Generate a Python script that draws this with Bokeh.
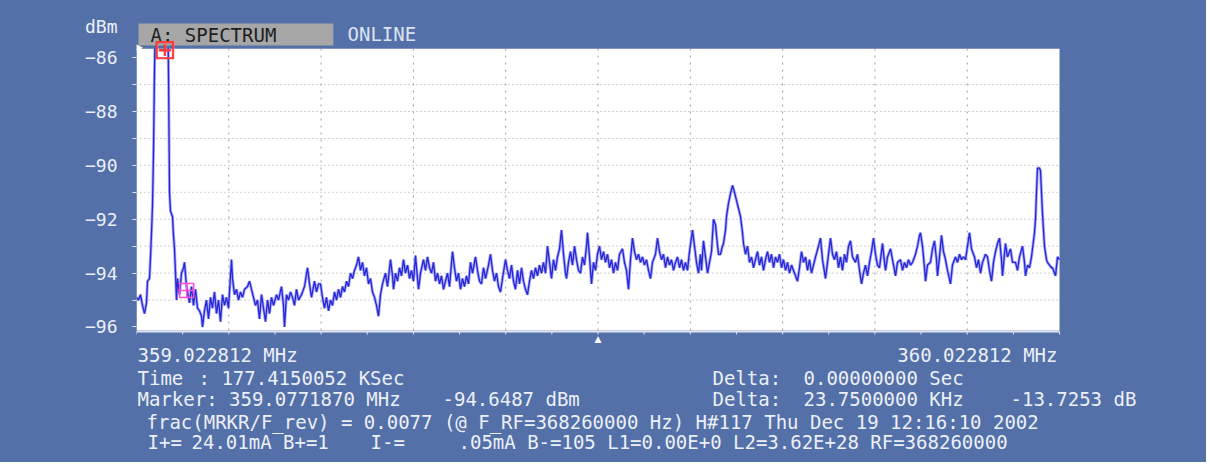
from bokeh.plotting import figure
from bokeh.models import Range1d, FixedTicker, Label, BoxAnnotation
from bokeh.embed import file_html
from bokeh.resources import INLINE

# ---------------- data ----------------
F_START_MHZ = 359.022812
F_STOP_MHZ = 360.022812
TRACE_BINS = 923            # display bins across the span
Y_BOTTOM_DBM = -96.13
Y_TOP_DBM = -85.66

y_tick_values = [-96, -94, -92, -90, -88, -86]
y_minor_values = [-96, -95, -94, -93, -92, -91, -90, -89, -88, -87, -86]
y_grid_values = [-95, -94, -93, -92, -91, -90, -89, -88, -87]
unit_label = "dBm"

trace_bin = [
    0, 2, 4, 6, 8, 10, 11, 13, 14, 15, 16, 17, 18, 19, 22, 25, 28, 30, 31, 32,
    33, 34, 36, 37, 38, 39, 40, 41, 43, 45, 47, 48, 50, 51, 53, 55, 57, 59, 61, 63,
    65, 66, 68, 70, 72, 74, 76, 78, 80, 82, 84, 86, 88, 90, 92, 95, 96, 98, 100, 102,
    104, 106, 108, 111, 113, 115, 117, 119, 121, 123, 125, 127, 129, 131, 133, 135, 137, 140, 142, 145,
    147, 148, 150, 152, 154, 156, 158, 160, 162, 165, 168, 171, 173, 175, 178, 180, 182, 184,
    186, 188, 190, 192, 194, 196, 198, 200, 202, 204, 206, 208, 210, 212, 214, 216, 218, 220,
    222, 224, 226, 228, 230, 232, 234, 236, 238, 240, 242, 244, 246, 249, 251, 254, 256, 257,
    259, 261, 263, 265, 267, 269, 271, 273, 275, 277, 279, 281, 282, 284, 287, 289, 291, 293,
    295, 297, 299, 301, 303, 305, 307, 309, 311, 313, 316, 318, 320, 322, 324, 326, 328, 330,
    332, 334, 336, 339, 341, 343, 345, 347, 349, 352, 354, 356, 358, 360, 362, 364, 366, 369,
    371, 373, 375, 377, 379, 381, 383, 385, 387, 389, 391, 393, 395, 397, 399, 401, 403, 405,
    407, 409, 411, 413, 415, 417, 419, 421, 423, 425, 427, 429, 430, 432, 434, 436, 438, 440,
    442, 444, 446, 448, 450, 451, 453, 455, 457, 459, 461, 463, 465, 467, 469, 471, 473, 475,
    477, 479, 481, 483, 486, 488, 490, 492, 494, 496, 498, 500, 502, 504, 506, 508, 510, 512,
    514, 516, 519, 521, 523, 525, 527, 529, 531, 533, 535, 537, 539, 541, 543, 545, 547, 549,
    551, 553, 556,
    558, 560, 562, 564, 565, 567, 569, 571, 573, 575, 577, 579, 580, 582, 584, 586, 587, 589,
    590, 592, 594, 596, 598, 600, 602, 604, 606, 607, 609, 611, 613, 615, 617, 619, 621, 623,
    625, 627, 629, 631, 633, 635, 637, 639, 641, 643, 645, 647, 649, 651, 653, 655, 657, 659,
    661, 663, 665, 667, 669, 671, 673, 675, 677, 679, 682, 684, 686, 689, 691, 693, 694, 696,
    698, 700, 702, 704, 706, 708, 710, 712, 714, 716, 719, 721, 723, 725, 727, 729, 731, 733,
    735, 737,
    739, 741, 743, 745, 746, 748, 749, 751, 754, 756, 758, 759, 761, 764, 766, 768, 770, 772,
    774, 776, 778, 779, 781, 783, 784, 786, 788, 789, 791, 794, 796, 798, 800, 801, 803, 805,
    807, 809, 811, 814, 816, 819, 821, 823, 825, 827, 829, 831, 833, 835, 838, 840, 842, 844,
    846, 849, 851, 853, 855, 857, 859, 861, 863, 865, 866, 868, 869, 871, 874, 876, 879, 881,
    883, 886, 888, 889, 891, 893, 895, 896, 898, 899, 900, 901, 903, 904, 905, 906, 908, 910,
    911, 913, 915, 916, 918, 919, 921, 923,
]

trace_dbm = [
    -94.9, -95.0, -94.8, -95.2, -95.5, -95.1, -94.3, -94.2, -93.4, -92.5, -91.5, -89.5, -86.5, -84.0, -82.5, -81.3, -80.9, -81.5, -83.5, -86.5,
    -91.0, -91.7, -91.9, -92.6, -93.1, -94.0, -95.0, -94.2, -94.8, -94.0, -93.8, -93.6, -94.5, -94.7, -95.1, -94.5, -95.2, -94.6, -95.3, -95.4,
    -95.6, -96.0, -95.4, -95.0, -95.7, -94.9, -95.3, -94.7, -95.5, -95.0, -95.8, -94.8, -95.2, -94.9, -95.3, -93.5, -94.2, -94.8, -94.6, -95.0,
    -94.7, -94.9, -94.6, -94.5, -94.3, -94.6, -94.9, -95.2, -95.0, -95.7, -94.8, -95.3, -95.8, -95.0, -95.5, -94.9, -95.2, -94.8, -95.0, -94.5,
    -95.2, -96.0, -94.8, -95.0, -94.7, -94.9, -95.2, -94.6, -95.0, -94.8, -94.5, -93.8, -94.4, -94.9, -94.3, -94.7, -94.4, -94.4,
    -94.9, -95.3, -94.9, -95.4, -95.0, -95.2, -94.7, -95.0, -94.6, -94.9, -94.5, -94.7, -94.3, -94.5, -94.0, -94.2, -93.9, -93.7,
    -93.4, -93.9, -93.6, -94.1, -93.8, -94.4, -94.2, -94.7, -94.9, -95.2, -95.6, -94.8, -94.4, -94.0, -94.5, -93.5, -94.1, -94.6,
    -94.0, -94.3, -93.8, -94.1, -93.5, -94.0, -93.7, -94.2, -93.9, -94.3, -93.35, -94.2, -94.6, -94.0, -93.5, -93.9, -93.4, -93.8,
    -94.0, -93.6, -94.3, -94.0, -94.4, -94.1, -94.6, -94.3, -94.0, -94.5, -93.2, -93.8, -94.3, -94.0, -94.6, -94.2, -94.5, -94.1,
    -94.4, -93.6, -94.0, -93.4, -93.9, -94.3, -94.4, -93.8, -94.2, -93.7, -93.3, -93.9, -94.3, -94.0, -94.5, -94.7, -94.2, -93.5,
    -93.9, -94.2, -93.7, -94.3, -94.6, -93.9, -94.4, -93.8, -94.3, -94.6, -94.8, -94.3, -93.9, -94.2, -93.8, -94.1, -93.7, -94.0,
    -93.6, -94.0, -93.0, -93.6, -94.2, -93.5, -93.9, -93.4, -93.1, -92.4, -93.3, -94.0, -94.2, -93.6, -93.2, -93.7, -93.0, -93.5,
    -93.9, -94.0, -93.4, -93.7, -93.0, -92.5, -93.4, -94.4, -93.6, -93.9, -93.3, -93.0, -93.5, -93.2, -93.6, -93.3, -93.8, -93.5,
    -94.0, -93.6, -93.9, -93.3, -93.1, -93.6, -93.9, -94.6, -93.5, -92.7, -93.2, -93.5, -93.3, -93.6, -93.4, -93.7, -93.5, -93.9,
    -94.2, -93.6, -93.3, -92.7, -93.2, -93.5, -93.3, -93.8, -93.4, -93.7, -93.5, -93.9, -93.6, -93.4, -93.8, -93.5, -93.9, -93.6,
    -93.9, -93.2, -92.4,
    -93.0, -93.6, -94.0, -93.3, -93.9, -92.8, -93.4, -94.0, -93.6, -93.2, -92.0, -92.2, -92.6, -93.3, -93.3, -93.0, -92.9, -92.4,
    -91.9, -91.4, -91.05, -90.74, -91.0, -91.3, -91.6, -91.9, -92.5, -92.9, -93.3, -93.0, -93.6, -93.4, -93.8, -93.5, -93.2, -93.7,
    -93.4, -93.9, -93.5, -93.2, -93.6, -93.3, -93.8, -93.4, -93.6, -93.3, -93.8, -93.5, -93.9, -93.6, -94.0, -93.7, -93.9, -94.1,
    -94.3, -93.8, -93.2, -93.6, -93.4, -93.9, -93.5, -94.0, -93.7, -93.4, -93.0, -92.7, -93.5, -94.2, -93.6, -93.0, -92.7, -93.3,
    -93.5, -93.2, -93.8, -93.4, -93.9, -93.3, -93.6, -93.0, -92.8, -93.4, -93.6, -93.3, -93.9, -94.4, -94.0, -93.7, -94.1, -93.6,
    -93.2, -92.7,
    -93.3, -93.7, -93.8, -93.2, -92.9, -93.6, -93.9, -93.4, -93.1, -93.5, -93.9, -94.1, -93.6, -93.5, -93.9, -93.6, -93.8, -93.5,
    -93.7, -93.6, -93.4, -93.3, -93.0, -92.6, -92.5, -93.0, -93.8, -94.3, -93.7, -93.6, -93.1, -92.8, -93.5, -94.1, -93.4, -92.6,
    -93.2, -93.5, -93.9, -94.4, -93.7, -93.4, -93.6, -93.3, -93.5, -93.4, -93.5, -93.0, -92.5, -93.1, -93.4, -93.8, -93.5, -94.0,
    -93.6, -93.3, -93.4, -93.9, -94.3, -93.6, -93.2, -92.9, -92.7, -93.5, -94.1, -93.3, -92.9, -93.4, -93.1, -93.6, -93.6, -93.9,
    -93.4, -93.0, -93.6, -94.1, -93.7, -93.8, -93.4, -93.1, -92.5, -92.0, -91.0, -90.1, -90.1, -90.2, -91.0, -91.8, -93.0, -93.5,
    -93.6, -93.7, -93.8, -93.8, -94.0, -94.1, -93.4, -93.5,
]

# marker read-out values
marker_freq_mhz = 359.0771870
marker_dbm = -94.6487
delta_khz = 23.75
delta_db = -13.7253

# texts
header_trace = "A: SPECTRUM"
header_mode = "ONLINE"
start_label = "359.022812 MHz"
stop_label = "360.022812 MHz"

# ---------------- layout geometry (image pixels) ----------------
W, H = 1206, 462
PX_L, PX_R, PX_T, PX_B = 136, 1059, 48, 330      # white display area
BLUE = "#5470a8"
TXT = "#eceff7"
LIGHT = "#dfe5f2"
FONT = "DejaVu Sans Mono"

span = F_STOP_MHZ - F_START_MHZ
dbspan = Y_TOP_DBM - Y_BOTTOM_DBM


def dx(px):
    return F_START_MHZ + (px - PX_L) / (PX_R - PX_L) * span


def dy(py):
    return Y_TOP_DBM - (py - PX_T) / (PX_B - PX_T) * dbspan


freq = [F_START_MHZ + b * span / TRACE_BINS for b in trace_bin]

p = figure(width=W, height=H, output_backend="svg", toolbar_location=None,
           x_range=Range1d(dx(PX_L), dx(W)), y_range=Range1d(dy(H), dy(0)),
           min_border_left=PX_L, min_border_right=0, min_border_top=0, min_border_bottom=0)
p.title = None
p.styles = {"background-color": BLUE}
p.border_fill_color = BLUE
p.background_fill_color = BLUE
p.outline_line_color = None
p.xaxis.visible = False
p.xgrid.visible = False
p.ygrid.visible = False

# y axis (real axis, left panel); unit label carried as an extra tick
UNIT_TICK = round(dy(26), 3)
p.yaxis.ticker = FixedTicker(ticks=y_tick_values + [UNIT_TICK], minor_ticks=y_minor_values)
p.yaxis.major_label_overrides = {UNIT_TICK: unit_label}
p.yaxis.axis_line_color = None
p.yaxis.major_tick_out = 0
p.yaxis.major_tick_in = 0
p.yaxis.minor_tick_line_color = LIGHT
p.yaxis.minor_tick_out = 4
p.yaxis.minor_tick_in = 0
p.yaxis.major_label_standoff = 15
p.yaxis.major_label_text_font = FONT
p.yaxis.major_label_text_font_size = "18px"
p.yaxis.major_label_text_color = TXT

# white display area
p.add_layout(BoxAnnotation(left=F_START_MHZ, right=F_STOP_MHZ, bottom=Y_BOTTOM_DBM, top=Y_TOP_DBM,
                           fill_color="white", fill_alpha=1, line_color=None, level="underlay"))

# graticule (10 divisions x 1 dB)
div_ticks = [F_START_MHZ + k * span / 10 for k in range(11)]
half_ticks = [F_START_MHZ + k * span / 20 for k in range(21)]
inner_div = div_ticks[1:-1]
p.segment(x0=inner_div, y0=[Y_BOTTOM_DBM] * len(inner_div), x1=inner_div, y1=[Y_TOP_DBM] * len(inner_div),
          line_color="#9c9c9c", line_dash="2 5", line_width=1)
p.segment(x0=[F_START_MHZ] * len(y_grid_values), y0=y_grid_values,
          x1=[F_STOP_MHZ] * len(y_grid_values), y1=y_grid_values,
          line_color="#a4a4a4", line_dash="1 3", line_width=1)

# bottom scale line with division ticks
p.segment(x0=[F_START_MHZ], y0=[dy(331)], x1=[F_STOP_MHZ], y1=[dy(331)], line_color=LIGHT, line_width=2)
p.segment(x0=half_ticks, y0=[dy(331)] * len(half_ticks), x1=half_ticks, y1=[dy(334)] * len(half_ticks),
          line_color=LIGHT, line_width=1)

# trace
p.line(freq, trace_dbm, line_color="#8c8cff", line_width=3, line_alpha=0.75)
p.line(freq, trace_dbm, line_color="#2626d2", line_width=1.3)

# marker (pink)
p.scatter([marker_freq_mhz], [marker_dbm], marker="square_cross", size=14,
          fill_alpha=0, line_color="#ff4fd0", line_width=1.5)

# the trace is limited to the display area (off-screen part hidden)
p.add_layout(BoxAnnotation(bottom=Y_TOP_DBM, fill_color=BLUE, fill_alpha=1, line_color=None))


def lab(text, px, py, align="left", color=TXT, size="19px", font=FONT, **kw):
    p.add_layout(Label(x=dx(px), y=dy(py), text=text, text_align=align,
                       text_baseline="middle", text_color=color,
                       text_font=font, text_font_size=size, **kw))


# header
lab(header_trace, 138, 34, color="#1e1e1e", background_fill_color="#a6a6a6",
    padding=dict(left=12, right=57, top=0, bottom=0))
lab(header_mode, 347, 33, color="#dce3f2")

# reference level & center markers
lab("\u25b6", 139, 46, color="white", size="9px", font="DejaVu Sans", align="center")
p.add_layout(Label(x=F_START_MHZ + span / 2, y=dy(338), text="\u25b2", text_align="center",
                   text_baseline="middle", text_color="white",
                   text_font="DejaVu Sans", text_font_size="9px"))

# reference (delta) marker, clamped at top of screen
ref_freq = marker_freq_mhz - delta_khz / 1000
ref_level = marker_dbm - delta_db
p.add_layout(Label(x=ref_freq, y=min(ref_level, dy(49)), text="\u229e", text_align="center",
                   text_baseline="middle", text_color="#ff3a3a",
                   text_font="DejaVu Sans", text_font_size="28px"))

# start / stop
lab(start_label, 137, 354)
lab(stop_label, 1057, 354, align="right")

# read-outs
lab("Time", 137, 377)
lab(": 177.4150052 KSec", 198, 377)
lab("Delta:", 712, 377)
lab("0.00000000 Sec", 803, 377)
lab("Marker: %.7f MHz" % marker_freq_mhz, 137, 398)
lab("%.4f dBm" % marker_dbm, 442, 398)
lab("Delta:", 712, 398)
lab("%.7f KHz" % delta_khz, 803, 398)
lab("%.4f dB" % delta_db, 1010, 398)
lab("frac(MRKR/F_rev) = 0.0077 (@ F_RF=368260000 Hz) H#117 Thu Dec 19 12:16:10 2002", 146, 421)
lab("I+=", 147, 441)
lab("24.01mA B+=1", 191, 441)
lab("I-=", 370, 441)
lab(".05mA B-=105 L1=0.00E+0 L2=3.62E+28 RF=368260000", 458, 441)

open("out.html", "w").write(file_html(p, INLINE))
